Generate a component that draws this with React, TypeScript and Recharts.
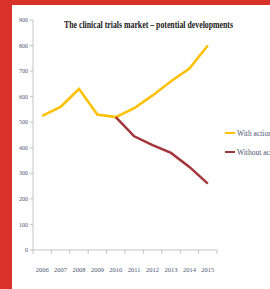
import { Line, LineChart, XAxis, YAxis } from "recharts";

const years = ["2006", "2007", "2008", "2009", "2010", "2011", "2012", "2013", "2014", "2015"];
const withAction = [525, 560, 630, 530, 520, 555, 605, 660, 710, 800];
const withoutAction = [null, null, null, null, 520, 445, 410, 380, 325, 260];
const yTicks = [0, 100, 200, 300, 400, 500, 600, 700, 800, 900];

const series = [
  { key: "with", name: "With action", color: "#FFC000" },
  { key: "without", name: "Without action", color: "#A3363B" },
];

const data = years.map((year, i) => ({ year, with: withAction[i], without: withoutAction[i] }));

const W = 258;
const H = 284;
const margin = { top: 15, right: 53, bottom: 14, left: 0 };
const yAxisWidth = 21;
const band = (W - margin.left - margin.right - yAxisWidth) / years.length;
const labelColor = "#4d5573";
const axisColor = "#c4c4c4";

function XTick(props: any) {
  const { x, y, payload, index } = props;
  return (
    <g>
      <line x1={x - band / 2} x2={x - band / 2} y1={y} y2={y + 4} stroke={axisColor} />
      {index === years.length - 1 && (
        <line x1={x + band / 2} x2={x + band / 2} y1={y} y2={y + 4} stroke={axisColor} />
      )}
      <text x={x} y={y + 22} textAnchor="middle" fontSize={6.5} fill={labelColor} fontFamily="Liberation Serif">
        {payload.value}
      </text>
    </g>
  );
}

export default function App() {
  return (
    <div style={{ position: "fixed", left: 0, top: 0, width: 270, height: 289, background: "#d8322a", overflow: "hidden" }}>
      <div style={{ position: "absolute", left: 12, top: 5, width: W, height: H, background: "#fff", overflow: "hidden" }}>
        <LineChart width={W} height={H} data={data} margin={margin}>
          <XAxis
            dataKey="year"
            stroke={axisColor}
            tickLine={false}
            tickSize={0}
            tickMargin={0}
            height={25}
            interval={0}
            padding={{ left: band / 2, right: band / 2 }}
            tick={<XTick />}
          />
          <YAxis
            domain={[0, 900]}
            ticks={yTicks}
            width={yAxisWidth}
            stroke={axisColor}
            tickSize={3}
            tickMargin={2}
            interval={0}
            tick={{ fontSize: 6, fill: labelColor, fontFamily: "Liberation Serif" }}
          />
          {series.map((s) => (
            <Line
              key={s.key}
              dataKey={s.key}
              name={s.name}
              stroke={s.color}
              strokeWidth={2.5}
              dot={false}
              type="linear"
              isAnimationActive={false}
            />
          ))}
        </LineChart>
        <div
          style={{
            position: "absolute",
            left: 30,
            top: 14,
            width: 200,
            textAlign: "center",
            whiteSpace: "nowrap",
            fontFamily: "Liberation Serif",
            fontWeight: "bold",
            fontSize: 10,
            lineHeight: "12px",
            color: "#1a1a1a",
            transform: "scaleX(0.78)",
            transformOrigin: "center",
            pointerEvents: "none",
          }}
        >
          The clinical trials market – potential developments
        </div>
        <div style={{ position: "absolute", left: 213, top: 123, whiteSpace: "nowrap", fontFamily: "Liberation Serif", fontSize: 7.5, color: labelColor }}>
          {series.map((s) => (
            <div key={s.key} style={{ display: "flex", alignItems: "center", height: 10, marginBottom: 9 }}>
              <span style={{ display: "inline-block", width: 10, height: 2.5, background: s.color, marginRight: 2 }} />
              {s.name}
            </div>
          ))}
        </div>
      </div>
    </div>
  );
}
